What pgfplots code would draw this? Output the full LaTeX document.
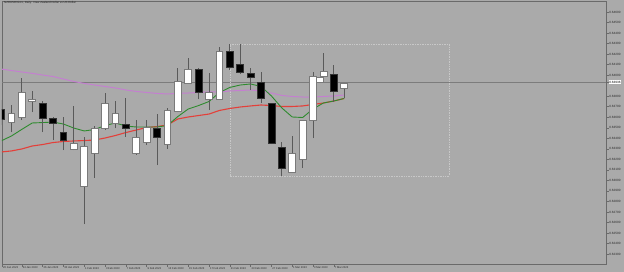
\documentclass[border=0pt]{standalone}
\usepackage{pgfplots}
\pgfplotsset{compat=1.18}
\usepackage{pgfplotstable}
\usepackage{fontspec}
\setmainfont{Liberation Sans}
\definecolor{bg}{HTML}{AAAAAA}
\definecolor{framec}{HTML}{6A6A6A}
\definecolor{wickc}{HTML}{5A5A5A}
\definecolor{bulledge}{HTML}{7A7A7A}
\definecolor{mapurple}{HTML}{C47FD0}
\definecolor{magreen}{HTML}{2E8B2E}
\definecolor{mared}{HTML}{E3403A}
\definecolor{rectc}{HTML}{C8C8C8}
\definecolor{pricec}{HTML}{7C7C7C}

% daily candles: bar index, open, high, low, close
\pgfplotstableread{
i     o       h       l       c
0     0.63679 0.63765 0.63527 0.63584
1     0.63555 0.63717 0.63460 0.63641
2     0.63603 0.63974 0.63574 0.63841
3     0.63755 0.63850 0.63650 0.63774
4     0.63736 0.63755 0.63460 0.63593
5     0.63593 0.63603 0.63384 0.63546
6     0.63460 0.63603 0.63289 0.63384
7     0.63299 0.63708 0.63289 0.63356
8     0.62947 0.63413 0.62585 0.63327
9     0.63261 0.63517 0.63023 0.63498
10    0.63498 0.63831 0.63479 0.63736
11    0.63546 0.63755 0.63498 0.63641
12    0.63536 0.63784 0.63413 0.63498
13    0.63261 0.63574 0.63242 0.63413
14    0.63365 0.63574 0.63337 0.63508
15    0.63498 0.63631 0.63146 0.63413
16    0.63346 0.63689 0.63299 0.63669
17    0.63660 0.64069 0.63650 0.63945
18    0.63926 0.64164 0.63917 0.64059
19    0.64059 0.64069 0.63774 0.63841
20    0.63774 0.64021 0.63669 0.63841
21    0.63774 0.64269 0.63765 0.64231
22    0.64231 0.64297 0.64050 0.64078
23    0.64107 0.64297 0.64012 0.64031
24    0.64021 0.64069 0.63860 0.63983
25    0.63936 0.64031 0.63736 0.63784
26    0.63736 0.63736 0.63346 0.63356
27    0.63318 0.63365 0.63042 0.63118
28    0.63080 0.63422 0.63080 0.63261
29    0.63204 0.63574 0.63118 0.63574
30    0.63574 0.64031 0.63403 0.63993
30.67 0.63936 0.63993 0.63926 0.63983
31    0.63993 0.64212 0.63983 0.64040
32    0.64012 0.64097 0.63746 0.63850
33    0.63879 0.63926 0.63784 0.63926
}\candles

% moving averages: bar index, slow (purple), fast (green), medium (red)
\pgfplotstableread{
i  slow    fast    mid
0  0.64059 0.63375 0.63270
1  0.64045 0.63422 0.63280
2  0.64031 0.63485 0.63299
3  0.64018 0.63546 0.63327
4  0.64002 0.63550 0.63341
5  0.63988 0.63555 0.63360
6  0.63964 0.63536 0.63370
7  0.63941 0.63498 0.63375
8  0.63922 0.63470 0.63379
9  0.63907 0.63484 0.63384
10 0.63893 0.63522 0.63403
11 0.63879 0.63546 0.63427
12 0.63860 0.63517 0.63455
13 0.63846 0.63508 0.63479
14 0.63836 0.63508 0.63503
15 0.63827 0.63508 0.63512
16 0.63822 0.63522 0.63527
17 0.63827 0.63607 0.63584
18 0.63831 0.63679 0.63603
19 0.63836 0.63712 0.63617
20 0.63841 0.63750 0.63631
21 0.63841 0.63836 0.63665
22 0.63850 0.63884 0.63684
23 0.63855 0.63907 0.63698
24 0.63860 0.63917 0.63708
25 0.63850 0.63893 0.63717
26 0.63831 0.63803 0.63712
27 0.63808 0.63689 0.63703
28 0.63798 0.63603 0.63703
29 0.63793 0.63598 0.63708
30 0.63793 0.63679 0.63722
31 0.63798 0.63736 0.63736
32 0.63803 0.63755 0.63755
33 0.63812 0.63779 0.63779
}\mas

\tikzset{
  wick/.style={draw=wickc, line width=0.9bp},
  bull/.style={fill=white, draw=bulledge, line width=0.7bp},
  bear/.style={fill=black, draw=black!80, line width=0.7bp},
}

\begin{document}
\begin{tikzpicture}
\fill[bg] (0,0) rectangle (624bp,272bp);
\begin{axis}[
  at={(2bp,8bp)}, anchor=south west,
  scale only axis, width=604bp, height=263bp,
  xmin=0.0962, xmax=58.17, ymin=0.62205, ymax=0.64706,
  axis line style={draw=framec, line width=0.8bp},
  axis background/.style={fill=bg},
  tick align=outside, major tick length=2.5bp,
  tick style={draw=framec, line width=0.6bp},
  ytick pos=right, yticklabel pos=right,
  ytick={0.623,0.624,0.625,0.626,0.627,0.628,0.629,0.630,0.631,0.632,0.633,0.634,0.635,0.636,0.637,0.638,0.640,0.641,0.642,0.643,0.644,0.645,0.646},
  /pgf/number format/fixed,
  /pgf/number format/fixed zerofill,
  /pgf/number format/precision=5,
  /pgf/number format/assume math mode=true,
  yticklabel style={font=\fontsize{3.1}{3.5}\selectfont, text=black!85, inner sep=0.6bp},
  scaled y ticks=false,
  extra y ticks={0.63936},
  extra y tick style={yticklabel style={fill=white, text=black, inner sep=0.7bp}},
  xtick pos=bottom,
  xtick={0.12,2,4,6,8,10,12,14,16,18,20,22,24,26,28,30,32},
  xticklabels={20 Jan 2023,24 Jan 2023,26 Jan 2023,30 Jan 2023,1 Feb 2023,3 Feb 2023,7 Feb 2023,9 Feb 2023,13 Feb 2023,15 Feb 2023,17 Feb 2023,21 Feb 2023,23 Feb 2023,27 Feb 2023,1 Mar 2023,3 Mar 2023,7 Mar 2023},
  xticklabel style={font=\fontsize{2.7}{3}\selectfont, text=black!85, anchor=north west, inner sep=0.4bp, xshift=0.4bp},
]
% current price line
\addplot[draw=pricec, line width=0.9bp] coordinates {(0.0962,0.63936) (58.17,0.63936)};
% rectangle object
\addplot[draw=rectc, line width=0.7bp, densely dotted] coordinates {(22.02,0.64297) (43.08,0.64297) (43.08,0.63042) (22.02,0.63042) (22.02,0.64297)};
% moving averages
\addplot[draw=mapurple, line width=1bp] table[x=i, y=slow] {\mas};
\addplot[draw=mared, line width=1.1bp] table[x=i, y=mid] {\mas};
\addplot[draw=magreen, line width=0.9bp] table[x=i, y=fast] {\mas};
% candles
\pgfplotstablegetrowsof{\candles}
\pgfmathtruncatemacro\lastrow{\pgfplotsretval-1}
\pgfplotsforeachungrouped \r in {0,...,\lastrow}{%
  \pgfplotstablegetelem{\r}{i}\of\candles \let\ci\pgfplotsretval
  \pgfplotstablegetelem{\r}{o}\of\candles \let\co\pgfplotsretval
  \pgfplotstablegetelem{\r}{h}\of\candles \let\ch\pgfplotsretval
  \pgfplotstablegetelem{\r}{l}\of\candles \let\cl\pgfplotsretval
  \pgfplotstablegetelem{\r}{c}\of\candles \let\cc\pgfplotsretval
  \pgfmathsetmacro\xa{\ci-0.33}%
  \pgfmathsetmacro\xb{\ci+0.33}%
  \pgfmathtruncatemacro\up{\cc>=\co}%
  \ifnum\up=1 \def\sty{bull}\else\def\sty{bear}\fi
  \edef\tmp{\noexpand\addplot[wick] coordinates {(\ci,\cl) (\ci,\ch)};
    \noexpand\addplot[\sty] coordinates {(\xa,\co) (\xb,\co) (\xb,\cc) (\xa,\cc)} -- cycle;}%
  \tmp
}
\end{axis}
\node[anchor=north west, inner sep=0, font=\fontsize{2.9}{3.2}\selectfont, text=black!85] at (4bp,270.5bp) {NZDUSDmicro, Daily:\ \ New Zealand Dollar vs US Dollar};
\pgfresetboundingbox
\path[use as bounding box] (0,0) rectangle (624bp,272bp);
\end{tikzpicture}
\end{document}
